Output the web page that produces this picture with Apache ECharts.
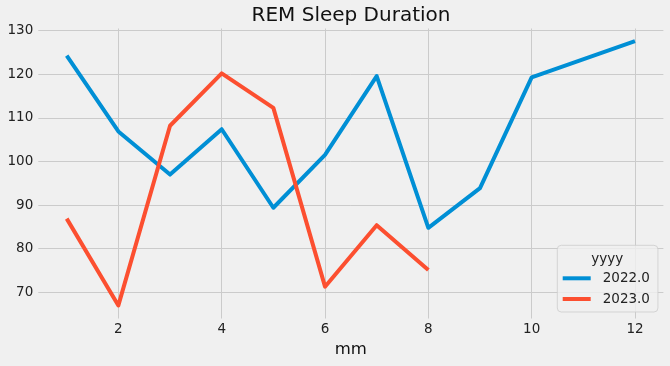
<!DOCTYPE html>
<html>
<head>
<meta charset="utf-8">
<script src="https://cdn.jsdelivr.net/npm/echarts@6/dist/echarts.min.js"></script>
<style>
html,body{margin:0;padding:0;background:#f0f0f0;}
#chart{width:670px;height:366px;}
</style>
</head>
<body>
<div id="chart"></div>
<script>
// Data
const months2022 = [1, 2, 3, 4, 5, 6, 7, 8, 9, 10, 12];
const values2022 = [124.3, 106.9, 97.0, 107.4, 89.4, 101.5, 119.6, 84.8, 93.9, 119.3, 127.6];
const months2023 = [1, 2, 3, 4, 5, 6, 7, 8];
const values2023 = [86.9, 67.0, 108.2, 120.2, 112.3, 71.3, 85.4, 75.1];
const seriesNames = ['2022.0', '2023.0'];
const titleText = 'REM Sleep Duration';
const xAxisName = 'mm';
const legendTitle = 'yyyy';

const FONT = 'DejaVu Sans';
const chart = echarts.init(document.getElementById('chart'), null, {renderer: 'canvas'});

function pairs(xs, ys) { return xs.map((x, i) => [x, ys[i]]); }

const lineStyleBase = {width: 4, cap: 'butt', join: 'round'};

chart.setOption({
  backgroundColor: '#f0f0f0',
  animation: false,
  title: {
    text: titleText,
    left: 351,
    textAlign: 'center',
    top: 6,
    padding: 0,
    textStyle: {fontFamily: FONT, fontSize: 20, fontWeight: 'normal', color: '#111'}
  },
  grid: {left: 38.3, top: 28.5, width: 625.1, height: 290, containLabel: false},
  xAxis: {
    type: 'value',
    min: 0.45,
    max: 12.55,
    name: xAxisName,
    nameLocation: 'middle',
    nameGap: 20,
    nameTextStyle: {fontFamily: FONT, fontSize: 16.5, color: '#111'},
    axisLine: {show: false},
    axisTick: {show: false},
    axisLabel: {
      margin: 4, fontFamily: FONT, fontSize: 13.5, color: '#222',
      showMinLabel: false, showMaxLabel: false,
      formatter: v => (Number.isInteger(v) ? String(v) : '')
    },
    splitLine: {show: true, showMinLine: false, showMaxLine: false, lineStyle: {color: '#cbcbcb', width: 1}}
  },
  yAxis: {
    type: 'value',
    min: 64,
    max: 130.5,
    axisLine: {show: false},
    axisTick: {show: false},
    axisLabel: {
      margin: 5, fontFamily: FONT, fontSize: 13.5, color: '#222',
      showMinLabel: false, showMaxLabel: false,
      formatter: v => (Number.isInteger(v) ? String(v) : '')
    },
    splitLine: {show: true, showMinLine: false, showMaxLine: false, lineStyle: {color: '#cbcbcb', width: 1}}
  },
  legend: {
    orient: 'vertical',
    left: 557.3,
    top: 245.3,
    padding: [26, 8, 6, 5.4],
    itemGap: 6.7,
    itemWidth: 28,
    itemHeight: 4,
    backgroundColor: 'rgba(240,240,240,0.8)',
    borderColor: 'rgba(204,204,204,0.8)',
    borderWidth: 1,
    borderRadius: 4,
    textStyle: {fontFamily: FONT, fontSize: 13.5, color: '#222', padding: [0, 0, 0, 7]},
    data: [{name: seriesNames[0], icon: 'rect'}, {name: seriesNames[1], icon: 'rect'}]
  },
  graphic: [{
    type: 'text',
    z: 100,
    x: 607.3,
    y: 259,
    style: {text: legendTitle, fill: '#222', font: '13.5px "DejaVu Sans"', textAlign: 'center', textVerticalAlign: 'middle'}
  }],
  series: [
    {
      name: seriesNames[0], type: 'line', data: pairs(months2022, values2022),
      showSymbol: false, symbol: 'none', color: '#008fd5',
      lineStyle: Object.assign({color: '#008fd5'}, lineStyleBase)
    },
    {
      name: seriesNames[1], type: 'line', data: pairs(months2023, values2023),
      showSymbol: false, symbol: 'none', color: '#fc4f30',
      lineStyle: Object.assign({color: '#fc4f30'}, lineStyleBase)
    }
  ]
});
</script>
</body>
</html>
